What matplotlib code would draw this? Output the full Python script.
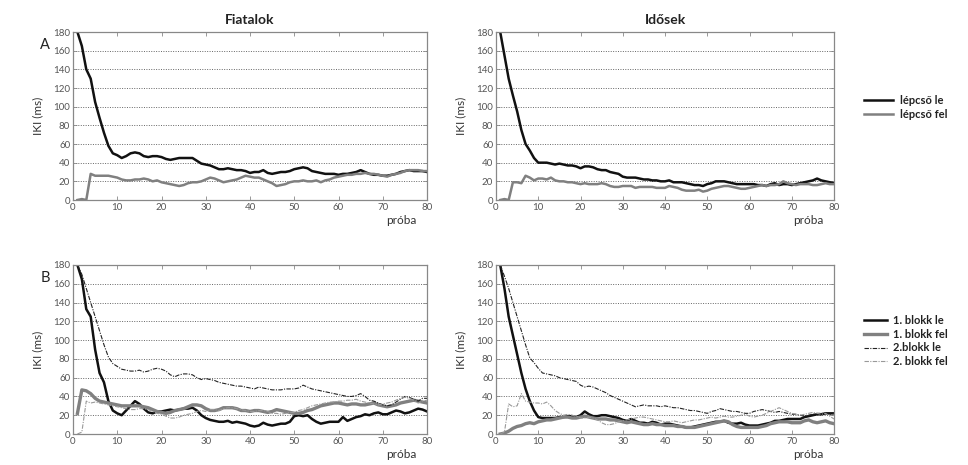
import numpy as np
import matplotlib
matplotlib.use("Agg")
from matplotlib import pyplot as plt

plt.rcParams['font.family'] = ['Lato', 'DejaVu Sans']

trials = np.arange(1, 81)

# A: Fiatalok
fia_le = [180, 165, 140, 130, 105, 88, 72, 58, 50, 48, 45, 47, 50, 51, 50, 47, 46, 47, 47, 46,
          44, 43, 44, 45, 45, 45, 45, 42, 39, 38, 37, 35, 33, 33, 34, 33, 32, 32, 31, 29,
          30, 30, 32, 29, 28, 29, 30, 30, 31, 33, 34, 35, 34, 31, 30, 29, 28, 28, 28, 27,
          28, 28, 29, 30, 32, 30, 28, 27, 27, 26, 26, 27, 28, 30, 31, 32, 31, 31, 31, 30]
fia_fel = [0, 1, 0, 28, 26, 26, 26, 26, 25, 24, 22, 21, 21, 22, 22, 23, 22, 20, 21, 19,
           18, 17, 16, 15, 16, 18, 19, 19, 20, 22, 24, 23, 21, 19, 20, 21, 22, 24, 26, 25,
           24, 24, 22, 20, 18, 15, 16, 17, 19, 20, 20, 21, 20, 20, 21, 19, 21, 22, 24, 25,
           26, 27, 27, 28, 28, 29, 28, 28, 27, 26, 25, 27, 28, 29, 31, 32, 32, 32, 31, 31]

# A: Idősek
ido_le = [180, 155, 130, 112, 95, 75, 60, 53, 45, 40, 40, 40, 39, 38, 39, 38, 37, 37, 36, 34,
          36, 36, 35, 33, 32, 32, 30, 29, 28, 25, 24, 24, 24, 23, 22, 22, 21, 21, 20, 20,
          21, 19, 19, 19, 18, 17, 16, 16, 15, 17, 18, 20, 20, 20, 19, 18, 17, 17, 17, 17,
          17, 16, 16, 15, 17, 18, 16, 17, 17, 16, 17, 18, 19, 20, 21, 23, 21, 20, 19, 18]
ido_fel = [0, 1, 0, 19, 19, 18, 26, 24, 21, 23, 23, 22, 24, 21, 20, 20, 19, 19, 18, 17,
           18, 17, 17, 17, 18, 17, 15, 14, 14, 15, 15, 15, 13, 14, 14, 14, 14, 13, 13, 13,
           15, 14, 13, 11, 10, 10, 10, 11, 9, 10, 12, 13, 14, 15, 15, 14, 13, 12, 12, 13,
           14, 15, 16, 15, 16, 16, 17, 20, 18, 17, 16, 17, 17, 17, 16, 16, 17, 18, 17, 17]

# B: Fiatalok
fia_b1_le = [180, 165, 133, 125, 90, 65, 55, 35, 25, 22, 20, 25, 30, 35, 32, 27, 23, 22, 24, 24,
             25, 26, 25, 26, 27, 27, 28, 25, 20, 17, 15, 14, 13, 13, 14, 12, 13, 12, 11, 9,
             8, 9, 12, 10, 9, 10, 11, 11, 13, 19, 20, 19, 20, 16, 13, 11, 12, 13, 13, 13,
             18, 14, 16, 18, 19, 21, 20, 22, 23, 21, 21, 23, 25, 24, 22, 23, 25, 27, 26, 24]
fia_b1_fel = [22, 47, 46, 43, 38, 35, 34, 33, 32, 31, 30, 30, 30, 30, 30, 29, 28, 26, 24, 23,
              22, 23, 25, 26, 27, 29, 31, 31, 30, 27, 25, 25, 26, 28, 28, 28, 27, 25, 25, 24,
              25, 25, 24, 23, 24, 26, 25, 24, 23, 22, 22, 23, 25, 26, 28, 30, 31, 32, 33, 33,
              32, 31, 32, 32, 31, 31, 32, 33, 31, 30, 29, 30, 31, 33, 34, 35, 36, 35, 34, 33]
fia_b2_le = [180, 170, 155, 140, 125, 110, 95, 82, 75, 72, 69, 68, 67, 67, 68, 66, 67, 69, 70, 69,
             67, 63, 61, 63, 64, 64, 63, 60, 58, 59, 58, 57, 55, 54, 53, 52, 51, 51, 50, 49,
             48, 50, 49, 48, 47, 47, 47, 48, 48, 48, 49, 52, 50, 48, 47, 46, 45, 44, 43, 42,
             41, 40, 40, 41, 43, 40, 36, 35, 33, 31, 30, 31, 34, 37, 40, 39, 37, 35, 38, 38]
fia_b2_fel = [0, 2, 35, 33, 34, 33, 32, 31, 30, 29, 28, 27, 26, 26, 27, 27, 26, 24, 22, 21,
              19, 17, 17, 18, 20, 21, 22, 24, 25, 24, 26, 26, 25, 27, 28, 28, 27, 26, 25, 24,
              24, 25, 25, 24, 22, 22, 21, 22, 23, 23, 25, 26, 28, 30, 31, 32, 33, 34, 34, 35,
              35, 36, 36, 37, 35, 34, 33, 32, 31, 32, 33, 34, 36, 38, 39, 38, 36, 33, 35, 36]

# B: Idősek
ido_b1_le = [180, 155, 125, 105, 85, 65, 48, 35, 25, 18, 17, 17, 17, 17, 18, 18, 19, 19, 18, 20,
             24, 21, 19, 19, 20, 20, 19, 18, 17, 15, 14, 16, 14, 12, 12, 11, 13, 12, 10, 11,
             11, 10, 9, 8, 7, 7, 8, 9, 10, 11, 12, 13, 13, 14, 12, 11, 11, 12, 10, 9,
             9, 9, 10, 11, 12, 14, 14, 15, 16, 16, 16, 16, 18, 19, 20, 21, 21, 22, 22, 22]
ido_b1_fel = [0, 1, 3, 6, 8, 9, 11, 12, 11, 13, 14, 15, 15, 16, 17, 18, 18, 17, 17, 18,
              19, 18, 17, 16, 16, 16, 15, 15, 14, 13, 12, 13, 12, 11, 10, 10, 11, 10, 10, 9,
              9, 9, 8, 8, 7, 7, 7, 8, 9, 10, 11, 12, 13, 14, 13, 10, 8, 7, 7, 7,
              7, 7, 8, 9, 11, 12, 13, 13, 13, 12, 12, 12, 14, 15, 13, 12, 13, 14, 12, 11]
ido_b2_le = [180, 168, 155, 140, 125, 110, 95, 81, 76, 70, 65, 64, 63, 62, 60, 59, 58, 57, 56, 52,
             50, 51, 50, 48, 46, 44, 41, 39, 37, 35, 33, 31, 29, 30, 31, 30, 30, 30, 29, 30,
             29, 28, 28, 27, 26, 25, 25, 24, 23, 22, 24, 25, 27, 26, 25, 24, 24, 23, 22, 22,
             24, 25, 26, 25, 24, 23, 24, 23, 22, 21, 21, 20, 19, 20, 21, 22, 22, 22, 21, 22]
ido_b2_fel = [0, 2, 32, 29, 30, 43, 35, 34, 33, 33, 32, 34, 30, 25, 22, 20, 21, 20, 19, 17,
              17, 18, 17, 15, 12, 10, 10, 11, 13, 14, 15, 16, 17, 18, 18, 17, 16, 15, 14, 13,
              13, 14, 13, 12, 13, 14, 15, 15, 16, 17, 18, 17, 18, 19, 18, 18, 19, 20, 21, 19,
              18, 19, 20, 22, 24, 26, 28, 26, 24, 22, 21, 20, 21, 22, 23, 22, 21, 22, 19, 16]

titles = ['Fiatalok', 'Idősek']
labels_a = ['lépcső le', 'lépcső fel']
labels_b = ['1. blokk le', '1. blokk fel', '2.blokk le', '2. blokk fel']

W, H = 968, 465
fig = plt.figure(figsize=(W / 100, H / 100), dpi=100)


def px_axes(x0, x1, y0, y1):
    return fig.add_axes([x0 / W, 1 - y1 / H, (x1 - x0) / W, (y1 - y0) / H])


def style(ax):
    ax.set_xlim(0, 80)
    ax.set_ylim(0, 180)
    ax.set_xticks(range(0, 81, 10))
    ax.set_yticks(range(0, 181, 20))
    ax.tick_params(direction='in', top=True, right=True, length=3, width=0.6,
                   colors='#888888', labelcolor='#555555', labelsize=7, pad=2)
    for s in ax.spines.values():
        s.set_color('#888888')
        s.set_linewidth(0.9)
    ax.yaxis.grid(True, linestyle=(0, (1, 1.5)), color='#666666', linewidth=0.7)
    ax.set_axisbelow(True)
    ax.set_ylabel('IKI (ms)', fontsize=8.5, color='#333333', labelpad=7)
    ax.text(0.97, -0.12, 'próba', transform=ax.transAxes, ha='right', va='center',
            fontsize=8.5, color='#333333')


dashdot = (0, (4, 1.2, 1, 1.2))
black = '#111111'
gray = '#808080'

axes_a = [px_axes(73, 427, 32, 200), px_axes(496, 834, 32, 200)]
axes_b = [px_axes(73, 427, 265, 434), px_axes(496, 834, 265, 434)]

data_a = [(fia_le, fia_fel), (ido_le, ido_fel)]
data_b = [(fia_b1_le, fia_b1_fel, fia_b2_le, fia_b2_fel),
          (ido_b1_le, ido_b1_fel, ido_b2_le, ido_b2_fel)]

for i, ax in enumerate(axes_a):
    le, fel = data_a[i]
    ax.plot(trials, le, color=black, lw=1.8, label=labels_a[0])
    ax.plot(trials, fel, color=gray, lw=1.8, label=labels_a[1])
    style(ax)
    ax.set_title(titles[i], fontsize=10, fontweight='bold', color='#222222', pad=6)

for i, ax in enumerate(axes_b):
    b1le, b1fel, b2le, b2fel = data_b[i]
    ax.plot(trials, b1le, color=black, lw=1.8, label=labels_b[0])
    ax.plot(trials, b1fel, color=gray, lw=2.4, label=labels_b[1])
    ax.plot(trials, b2le, color='#222222', lw=0.8, ls=dashdot, label=labels_b[2])
    ax.plot(trials, b2fel, color='#999999', lw=0.8, ls=dashdot, label=labels_b[3])
    style(ax)

leg_a = axes_a[1].legend(loc='center left', bbox_to_anchor=(1.06, 0.55), frameon=False,
                         fontsize=8, handlelength=2.6, handletextpad=0.6, labelspacing=0.3)
leg_b = axes_b[1].legend(loc='center left', bbox_to_anchor=(1.06, 0.55), frameon=False,
                         fontsize=8, handlelength=2.0, handletextpad=0.6, labelspacing=0.25)
for leg in (leg_a, leg_b):
    for t in leg.get_texts():
        t.set_fontweight('bold')
        t.set_color('#222222')

fig.text(45 / W, 1 - 45 / H, 'A', fontsize=10.5, ha='center', va='center', color='#222222')
fig.text(45 / W, 1 - 278 / H, 'B', fontsize=10.5, ha='center', va='center', color='#222222')

fig.savefig('out.png', dpi=100)
